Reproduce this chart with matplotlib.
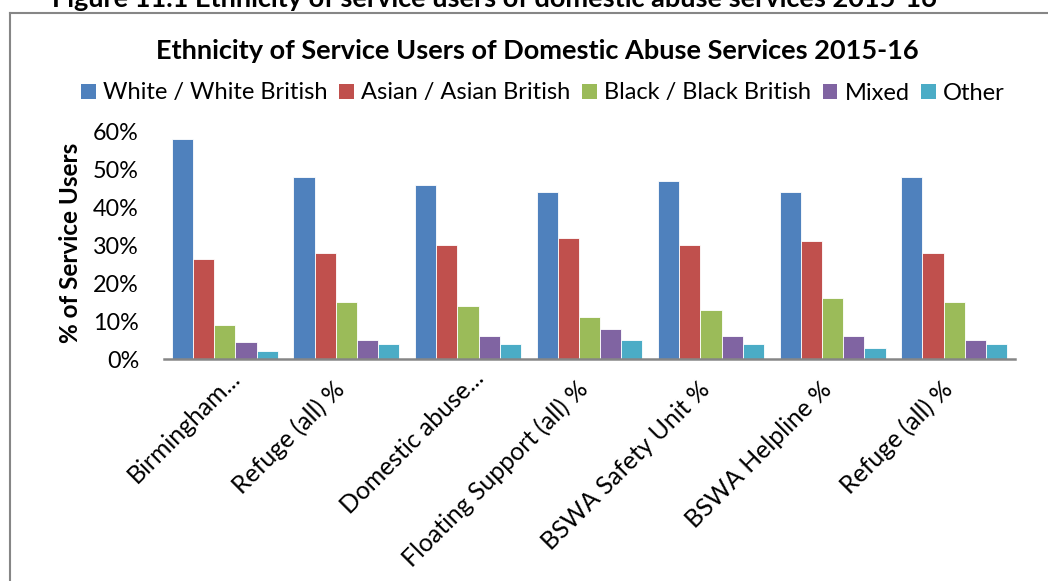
import matplotlib
matplotlib.use("Agg")
import matplotlib.pyplot as plt
import numpy as np
from matplotlib.lines import Line2D
from matplotlib.patches import Patch
from matplotlib.ticker import FuncFormatter
from matplotlib.transforms import ScaledTranslation

plt.rcParams['font.family'] = ['Lato', 'DejaVu Sans']

categories = ["Birmingham...", "Refuge (all) %", "Domestic abuse...",
              "Floating Support (all) %", "BSWA Safety Unit %",
              "BSWA Helpline %", "Refuge (all) %"]
series_names = ["White / White British", "Asian / Asian British",
                "Black / Black British", "Mixed", "Other"]
white = [58, 48, 46, 44, 47, 44, 48]
asian = [26.5, 28, 30, 32, 30, 31, 28]
black = [9, 15, 14, 11, 13, 16, 15]
mixed = [4.5, 5, 6, 8, 6, 6, 5]
other = [2, 4, 4, 5, 4, 3, 4]
colors = ["#4F81BD", "#C0504D", "#9BBB59", "#8064A2", "#4BACC6"]

W, H = 1048, 581
fig = plt.figure(figsize=(W / 100, H / 100), dpi=100)
fig.patch.set_facecolor("white")

def fx(px):
    return px / W

def fy(py):
    return 1 - py / H

# outer chart frame, running off the right and bottom edges
fig.add_artist(Line2D([fx(10), fx(10)], [fy(13), 0], color="#868686", lw=1.5))
fig.add_artist(Line2D([fx(10), 1.0], [fy(13), fy(13)], color="#868686", lw=1.5))

fig.text(fx(52), fy(7), "Figure 11.1 Ethnicity of service users of domestic abuse services 2015-16",
         fontsize=19.5, fontweight="bold", ha="left", va="baseline")

ax = fig.add_axes([fx(164), fy(359), fx(1015) - fx(164), fy(131.5) - fy(359)])

data = [white, asian, black, mixed, other]
x = np.arange(len(categories))
bw = 0.174
for i, (vals, col) in enumerate(zip(data, colors)):
    ax.bar(x + (i - 2) * bw, np.array(vals) / 100, width=bw, color=col,
           edgecolor="white", linewidth=0.6)

ax.set_xlim(-0.5, len(categories) - 0.5)
ax.set_ylim(0, 0.6)
ax.set_yticks(np.arange(0, 0.61, 0.1))
ax.yaxis.set_major_formatter(FuncFormatter(lambda v, _: f"{v * 100:.0f}%"))
ax.tick_params(axis="y", length=0, pad=18, labelsize=16.8)
ax.tick_params(axis="x", length=0, pad=14, labelsize=17.8)
for s in ["top", "right", "left"]:
    ax.spines[s].set_visible(False)
ax.spines["bottom"].set_color("#868686")
ax.spines["bottom"].set_linewidth(1.8)

ax.set_xticks(x)
ax.set_xticklabels(categories, rotation=45, ha="right", va="center",
                   rotation_mode="anchor")
# truncated labels sit a little further right than the full ones
for lab, name in zip(ax.get_xticklabels(), categories):
    if name.endswith("..."):
        dx, dy = 12, 4
    else:
        dx, dy = -5, -7
    lab.set_transform(lab.get_transform() +
                      ScaledTranslation(dx / 100, dy / 100, fig.dpi_scale_trans))

fig.text(fx(70), fy(243), "% of Service Users", rotation=90, fontsize=17.5,
         fontweight="bold", ha="center", va="center")

fig.text(fx(537), fy(51), "Ethnicity of Service Users of Domestic Abuse Services 2015-16",
         fontsize=19.5, fontweight="bold", ha="center", va="center")

handles = [Patch(facecolor=c, edgecolor="none") for c in colors]
fig.legend(handles, series_names, loc="center", bbox_to_anchor=(fx(543), fy(93)),
           ncol=5, frameon=False, fontsize=17.0, handlelength=0.62, handleheight=0.62,
           handletextpad=0.3, columnspacing=0.5, borderaxespad=0)

fig.savefig("out.png", dpi=100)
